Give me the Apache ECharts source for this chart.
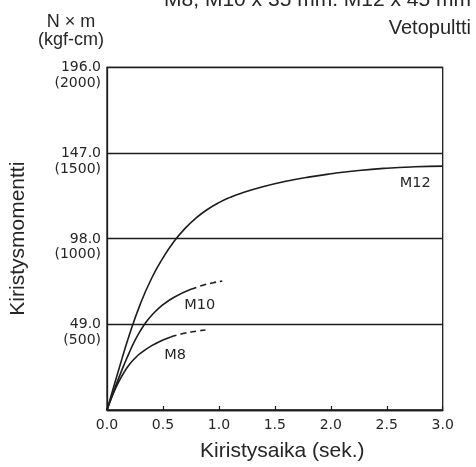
<!DOCTYPE html>
<html>
<head>
<meta charset="utf-8">
<script src="https://cdn.jsdelivr.net/npm/echarts@6/dist/echarts.min.js"></script>
<style>
html,body{margin:0;padding:0;background:#fff;}
#chart{width:476px;height:467px;}
</style>
</head>
<body>
<div id="chart"></div>
<script>
// ---- data ----
var xTicks = [0, 0.5, 1.0, 1.5, 2.0, 2.5, 3.0];
var yTicksNm = ['', '49.0', '98.0', '147.0', '196.0'];
var yTicksKgf = ['', '(500)', '(1000)', '(1500)', '(2000)'];

var m12Time   = [0, 0.1, 0.2, 0.3, 0.4, 0.5, 0.6, 0.7, 0.8, 0.9, 1.0, 1.1, 1.2, 1.4, 1.6, 1.8, 2.0, 2.25, 2.5, 2.75, 3.0];
var m12Torque = [0, 22, 43, 61, 75.5, 87, 96.5, 104, 110, 114.8, 118.6, 121.6, 124, 127.8, 130.8, 133.2, 135.1, 137, 138.3, 139.1, 139.5];

var m10Time   = [0, 0.05, 0.1, 0.15, 0.2, 0.25, 0.3, 0.35, 0.4, 0.5, 0.6, 0.75];
var m10Torque = [0, 9, 17.5, 25.5, 33, 39.8, 45.5, 50.3, 54.2, 60.2, 64.5, 69];
var m10DashTime   = [0.75, 0.85, 0.95, 1.03];
var m10DashTorque = [69, 71.2, 72.8, 73.8];

var m8Time   = [0, 0.05, 0.1, 0.15, 0.2, 0.25, 0.3, 0.4, 0.5, 0.57];
var m8Torque = [0, 8.5, 15.5, 21.3, 26, 29.6, 32.5, 36.8, 40, 41.8];
var m8DashTime   = [0.57, 0.7, 0.8, 0.88];
var m8DashTorque = [41.8, 44, 45.1, 45.8];

function pairs(t, v) { return t.map(function (x, i) { return [x, v[i]]; }); }

var INK = '#1c1c1c';
var TXT = '#262626';
var lineW = 1.6;

function curve(name, t, v, dashed, labelCoord) {
  var s = {
    name: name, type: 'line', data: pairs(t, v), smooth: true,
    showSymbol: false, symbol: 'none', silent: true,
    lineStyle: { color: INK, width: lineW, type: dashed ? [6, 4] : 'solid' },
    z: 3
  };
  if (labelCoord) {
    s.markPoint = {
      silent: true, symbol: 'circle', symbolSize: 0,
      label: { show: true, position: 'inside', formatter: name, color: TXT, fontSize: 14.5, fontFamily: 'DejaVu Sans' },
      data: [{ coord: labelCoord }]
    };
  }
  return s;
}

var chart = echarts.init(document.getElementById('chart'), null, { renderer: 'canvas' });
chart.setOption({
  animation: false,
  backgroundColor: '#fff',
  grid: { left: 105.7, right: 33.3, top: 67.3, bottom: 55, show: true, borderColor: INK, borderWidth: 1.3, backgroundColor: 'transparent' },
  graphic: [
    { type: 'text', x: 471, y: 0, style: { text: 'M8, M10 x 35 mm. M12 x 45 mm', align: 'right', verticalAlign: 'middle', font: '21px "Liberation Sans"', fill: TXT } },
    { type: 'text', x: 471, y: 28, style: { text: 'Vetopultti', align: 'right', verticalAlign: 'middle', font: '20px "Liberation Sans"', fill: TXT } },
    { type: 'text', x: 71, y: 22, style: { text: 'N × m', align: 'center', verticalAlign: 'middle', font: '18px "Liberation Sans"', fill: TXT } },
    { type: 'text', x: 71, y: 40, style: { text: '(kgf-cm)', align: 'center', verticalAlign: 'middle', font: '18px "Liberation Sans"', fill: TXT } }
  ],
  xAxis: {
    type: 'value', min: 0, max: 3, interval: 0.5,
    name: 'Kiristysaika (sek.)', nameLocation: 'middle', nameGap: 31,
    nameTextStyle: { fontFamily: 'Liberation Sans', fontSize: 21, color: TXT, padding: [0, 0, 0, 15] },
    axisLine: { show: true, lineStyle: { color: INK, width: 1.3 } },
    axisTick: { show: true, inside: true, length: 4, lineStyle: { color: INK, width: 1.2 } },
    splitLine: { show: false },
    axisLabel: {
      margin: 8, color: TXT, fontFamily: 'DejaVu Sans', fontSize: 14,
      formatter: function (v) { var i = xTicks.indexOf(v); return i >= 0 ? xTicks[i].toFixed(1) : ''; }
    }
  },
  yAxis: {
    type: 'value', min: 0, max: 196, interval: 49,
    name: 'Kiristysmomentti', nameLocation: 'middle', nameGap: 78, nameRotate: 90,
    nameTextStyle: { fontFamily: 'Liberation Sans', fontSize: 21, color: TXT },
    axisLine: { show: true, lineStyle: { color: INK, width: 1.3 } },
    axisTick: { show: false },
    splitLine: { show: true, lineStyle: { color: INK, width: 1.3 } },
    axisLabel: {
      margin: 6, align: 'right', verticalAlign: 'top', color: TXT, fontFamily: 'DejaVu Sans', fontSize: 14,
      formatter: function (v) {
        var i = Math.round(v / 49);
        if (!yTicksNm[i]) return '';
        return '{a|' + yTicksNm[i] + '}\n{b|' + yTicksKgf[i] + '}';
      },
      rich: {
        a: { lineHeight: 1, fontFamily: 'DejaVu Sans', fontSize: 14, color: TXT, align: 'right' },
        b: { lineHeight: 30, fontFamily: 'DejaVu Sans', fontSize: 14, color: TXT, align: 'right' }
      }
    }
  },
  series: [
    curve('M12', m12Time, m12Torque, false, [2.755, 129.8]),
    curve('M10', m10Time, m10Torque, false, [0.828, 59.7]),
    curve('M10 ', m10DashTime, m10DashTorque, true, null),
    curve('M8', m8Time, m8Torque, false, [0.608, 31.5]),
    curve('M8 ', m8DashTime, m8DashTorque, true, null)
  ]
});
</script>
</body>
</html>
